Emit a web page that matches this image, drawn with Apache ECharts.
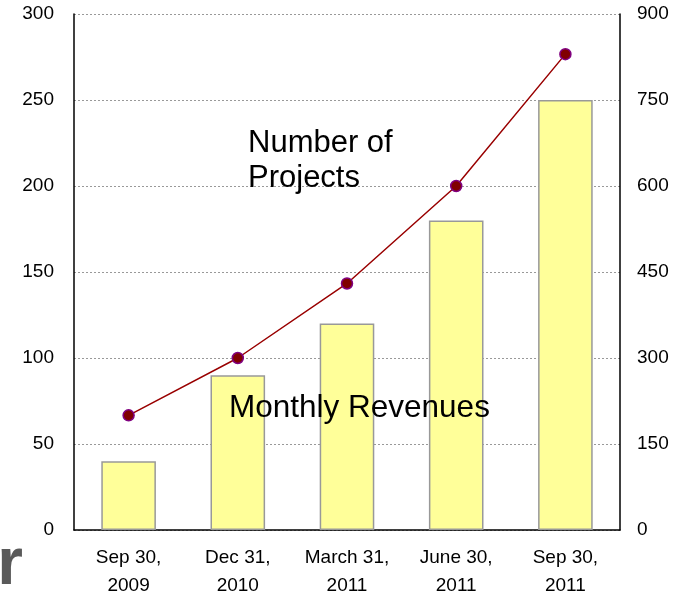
<!DOCTYPE html>
<html>
<head>
<meta charset="utf-8">
<script src="https://cdn.jsdelivr.net/npm/echarts@6/dist/echarts.min.js"></script>
<style>
html,body{margin:0;padding:0;background:#fff;}
#chart{width:685px;height:600px;}
</style>
</head>
<body>
<div id="chart"></div>
<script>
// data
var categories = ['Sep 30,\n2009', 'Dec 31,\n2010', 'March 31,\n2011', 'June 30,\n2011', 'Sep 30,\n2011'];
var revenues = [40, 90, 120, 180, 250];      // bars, left axis
var projects = [200, 300, 430, 600, 830];    // line, right axis
var leftTicks = [0, 300, 50];
var rightTicks = [0, 900, 150];

(function(){
    var myChart = echarts.init(document.getElementById('chart'));
    var font = '"Liberation Sans", Arial, sans-serif';
    var option = {
        animation: false,
        grid: {left: 74, right: 65, top: 14, bottom: 69},
        xAxis: {
            type: 'category',
            data: categories,
            axisLine: {lineStyle: {color: '#000', width: 1.5}},
            axisTick: {show: false},
            axisLabel: {interval: 0, hideOverlap: false, color: '#000', fontSize: 19, lineHeight: 28, margin: 14, fontFamily: font}
        },
        yAxis: [
            {
                type: 'value', min: leftTicks[0], max: leftTicks[1], interval: leftTicks[2],
                axisLine: {show: true, lineStyle: {color: '#000', width: 1.5}},
                axisTick: {show: false},
                axisLabel: {color: '#000', fontSize: 19, margin: 20, fontFamily: font},
                splitLine: {lineStyle: {color: '#999', type: [2, 2], width: 1}}
            },
            {
                type: 'value', min: rightTicks[0], max: rightTicks[1], interval: rightTicks[2],
                position: 'right',
                axisLine: {show: true, lineStyle: {color: '#000', width: 1.5}},
                axisTick: {show: false},
                axisLabel: {color: '#000', fontSize: 19, margin: 17, fontFamily: font},
                splitLine: {show: false}
            }
        ],
        series: [
            {
                type: 'bar',
                data: revenues,
                barWidth: '50%',
                itemStyle: {color: '#ffff99', borderColor: '#999', borderWidth: 1.5}
            },
            {
                type: 'line',
                yAxisIndex: 1,
                data: projects,
                symbol: 'circle',
                symbolSize: 11,
                lineStyle: {color: '#990000', width: 1.5},
                itemStyle: {color: '#800000', borderColor: '#800080', borderWidth: 1.5}
            }
        ],
        graphic: [
            {type: 'text', left: 248, top: 126, z: 100,
             style: {text: 'Number of\nProjects', fontSize: 31, lineHeight: 35, fill: '#000', fontFamily: font}},
            {type: 'text', left: 229, top: 392, z: 100,
             style: {text: 'Monthly Revenues', fontSize: 31.5, fill: '#000', fontFamily: font}},
            {type: 'text', x: 23, y: 599, z: 100,
             style: {text: 'er', fontSize: 66, fontWeight: 'bold', fill: '#5a5a5a', align: 'right', verticalAlign: 'bottom', fontFamily: font}}
        ]
    };
    myChart.setOption(option);
    window.addEventListener('resize', function(){ myChart.resize(); });
})();
</script>
</body>
</html>
